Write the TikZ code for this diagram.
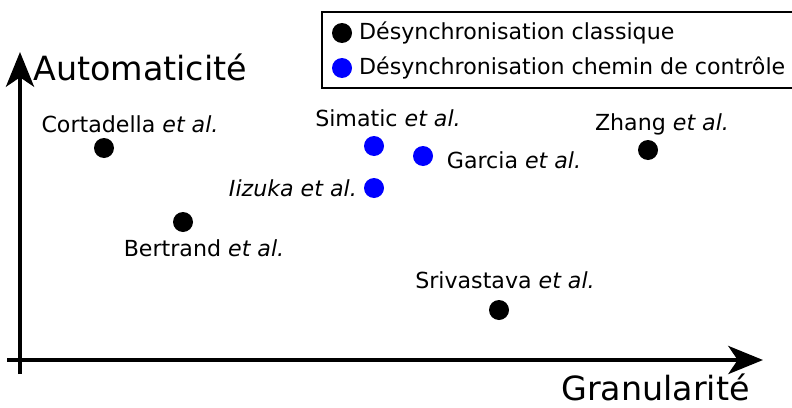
\documentclass[tikz,border=0pt]{standalone}
\usepackage{fontspec}
\setmainfont{DejaVu Sans}
\usetikzlibrary{arrows.meta,positioning}

\begin{document}
\begin{tikzpicture}[
  x=0.75pt, y=-0.75pt,
  classic/.style={circle, fill=black, inner sep=0pt, minimum size=15pt},
  ctrl/.style={circle, fill=blue, inner sep=0pt, minimum size=15pt},
  lbl/.style={font=\fontsize{16.6}{19}\selectfont, inner sep=1pt},
  axis/.style={draw, line width=3.2pt, -{Stealth[length=26pt,width=21pt,inset=7pt]}},
  axlbl/.style={font=\fontsize{25}{28}\selectfont, inner sep=0pt}
]
\useasboundingbox (0,0) rectangle (792,407);

% axes
\coordinate (o)  at (20,360);
\coordinate (ytop) at (20,52);
\coordinate (xend) at (763,360);
\draw[line width=3.2pt] (20,374) -- (o);
\draw[line width=3.2pt] (7,360) -- (o);
\draw[axis] (o) -- (ytop);
\draw[axis] (o) -- (xend);
\node[axlbl, anchor=west] (auto) at (33,67) {Automaticité};
\node[axlbl, anchor=east] (gran) at (750,387) {Granularité};

% points
\node[classic] (cort) at (104,148) {};
\node[classic] (bert) at (183,222) {};
\node[classic] (zhang) at (648,150) {};
\node[classic] (sriv) at (499,310) {};
\node[ctrl] (sim) at (374,146) {};
\node[ctrl] (garc) at (423,156) {};
\node[ctrl] (iiz) at (374,188) {};

\node[lbl] at (130,124) {Cortadella \textit{et al.}};
\node[lbl] at (204,248) {Bertrand \textit{et al.}};
\node[lbl] at (662,124) {Zhang \textit{et al.}};
\node[lbl] at (505,280) {Srivastava \textit{et al.}};
\node[lbl] at (388,118) {Simatic \textit{et al.}};
\node[lbl, right=9pt of garc, yshift=-3pt] {Garcia \textit{et al.}};
\node[lbl, left=4pt of iiz] {\textit{Iizuka et al.}};

% legend
\draw[line width=1.3pt, fill=white] (322,12) rectangle (800,88);
\node[classic] (lc) at (342,33) {};
\node[ctrl] (lb) at (342,68) {};
\node[lbl, right=4pt of lc] {Désynchronisation classique};
\node[lbl, right=4pt of lb] {Désynchronisation chemin de contrôle};
\end{tikzpicture}
\end{document}
